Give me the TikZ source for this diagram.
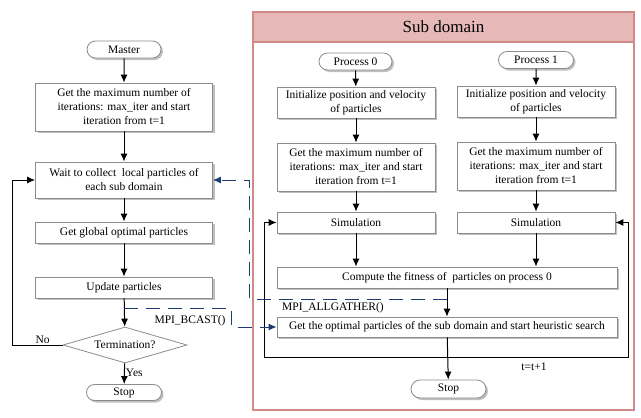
\documentclass[tikz,border=0pt]{standalone}
\usepackage{fontspec}
\setmainfont{Liberation Serif}
\usepackage{tikz}
\usetikzlibrary{positioning,shapes,arrows.meta,calc,shadows}
\definecolor{mpiblue}{HTML}{1F3B73}
\definecolor{subred}{HTML}{D08A88}
\definecolor{subpink}{HTML}{E6B9B8}
\definecolor{boxgray}{HTML}{8C8C8C}
\tikzset{
  proc/.style={draw=boxgray, line width=0.8pt, fill=white, align=center, inner sep=1pt,
    font=\fontsize{11.5}{14}\selectfont,
    drop shadow={shadow xshift=2pt, shadow yshift=-2pt, fill=black!50, opacity=0.5}},
  term/.style={proc, rounded rectangle, minimum height=17pt},
  decide/.style={draw=boxgray, line width=0.8pt, fill=white, diamond, aspect=3.4, inner sep=0pt,
    minimum width=124pt, minimum height=36pt, font=\fontsize{11.5}{14}\selectfont},
  flow/.style={line width=1pt, -{Latex[length=8pt,width=7pt]}},
  mpi/.style={mpiblue, line width=1pt, dash pattern=on 14pt off 8pt, -{Latex[length=8pt,width=7pt]}},
  tag/.style={font=\fontsize{11.5}{13}\selectfont, inner sep=1pt}
}

\begin{document}
\begin{tikzpicture}[x=1pt, y=-1pt]
  \useasboundingbox (0,0) rectangle (641,418);
  % sub domain frame
  \draw[subred, line width=1.5pt, fill=white] (253,12) rectangle (634,410);
  \node[draw=subred, line width=1.5pt, fill=subpink, minimum width=381pt, minimum height=30pt,
    font=\fontsize{17}{20}\selectfont] (subtitle) at (443.5,27) {Sub domain};

  % master
  \node[term, minimum width=76pt] (master) at (124,49.5) {Master};
  \node[proc, minimum width=177pt, minimum height=48pt] (iter) at (124,107)
    {Get the maximum number of\\iterations: max\_iter and start\\iteration from t=1};
  \node[proc, minimum width=177pt, minimum height=36pt] (wait) at (124,180)
    {Wait to collect\ \ local particles of\\each sub domain};
  \node[proc, minimum width=177pt, minimum height=21pt] (glob) at (124,232.5) {Get global optimal particles};
  \node[proc, minimum width=177pt, minimum height=21pt] (upd) at (124,287.5) {Update particles};
  \node[decide] (dec) at (125,345) {Termination?};
  \node[term, minimum width=77pt, minimum height=16pt] (stop) at (124,392.5) {Stop};

  % processes
  \node[term, minimum width=75pt] (p0) at (355.5,61.5) {Process 0};
  \node[term, minimum width=77pt] (p1) at (536,60) {Process 1};
  \foreach \n/\x/\dy in {0/356/0,1/536/-1} {
    \node[proc, minimum width=158pt, minimum height=31pt] (init\n) at (\x,102.5+\dy)
      {Initialize position and velocity\\of particles};
    \node[proc, minimum width=158pt, minimum height=48pt] (max\n) at (\x,167+\dy)
      {Get the maximum number of\\iterations: max\_iter and start\\iteration from t=1};
    \node[proc, minimum width=158pt, minimum height=21pt] (sim\n) at (\x,222.5) {Simulation};
    \draw[flow] (p\n) -- (init\n);
    \draw[flow] (init\n) -- (max\n);
    \draw[flow] (max\n) -- (sim\n);
  }
  \node[proc, minimum width=340pt, minimum height=21pt] (fit) at (447,277.5)
    {Compute the fitness of\ \ particles on process 0};
  \node[proc, minimum width=340pt, minimum height=20pt] (opt) at (447,327)
    {Get the optimal particles of the sub domain and start heuristic search};
  \node[term, minimum width=77pt, minimum height=18pt] (stop2) at (448.5,389) {Stop};

  % master flow
  \draw[flow] (master) -- (iter);
  \draw[flow] (iter) -- (wait);
  \draw[flow] (wait) -- (glob);
  \draw[flow] (glob) -- (upd);
  \draw[flow] (upd) -- (dec);
  \draw[flow] (dec) -- node[tag, right, pos=0.45] {Yes} (stop);
  \draw[flow] (dec.west) -- node[tag, above, pos=0.4] {No} ++(-50,0) |- (wait.west);

  % sub domain flow
  \draw[flow] (sim0) -- (sim0 |- fit.north);
  \draw[flow] (sim1) -- (sim1 |- fit.north);
  \draw[flow] (fit) -- (opt);
  \draw[flow] (opt) -- (stop2);
  \coordinate (lp) at ($(opt.south)!0.47!(stop2.north)$);
  \draw[flow] (lp) -| ($(sim0.west)+(-12,0)$) -- (sim0.west);
  \draw[flow] (lp) -| ($(sim1.east)+(13,0)$) -- (sim1.east);
  \node[tag] (tinc) at (534,367) {t=t+1};

  % messages
  \coordinate (bc) at ($(upd.south)!0.35!(dec.north)$);
  \coordinate (ag) at ($(fit.south)!0.38!(opt.north)$);
  \draw[mpi] (bc) -| ($(opt.west)+(-45,0)$) -- (opt.west);
  \draw[mpi] (ag) -| ($(wait.east)+(37,0)$) -- (wait.east);
  \node[tag] (bcast) at (190,321) {MPI\_BCAST()};
  \node[tag] (gather) at (333,308) {MPI\_ALLGATHER()};
\end{tikzpicture}
\end{document}
